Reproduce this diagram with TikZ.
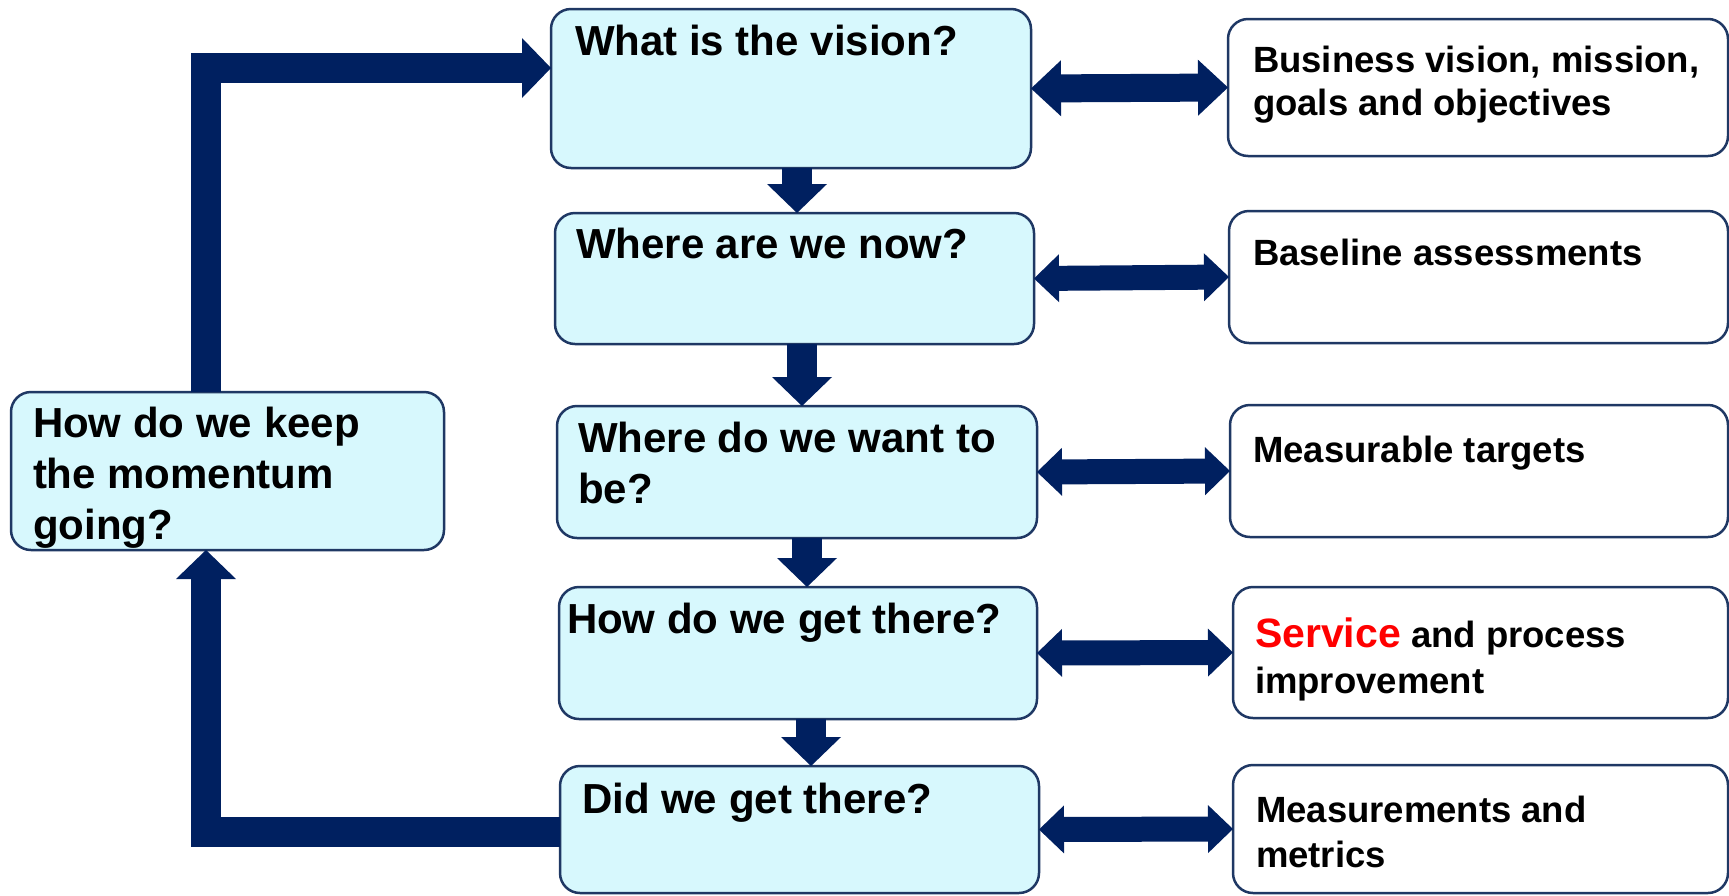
\documentclass[tikz,border=0pt]{standalone}
\usepackage{fontspec}
\setmainfont{Liberation Sans}
\usetikzlibrary{arrows.meta}
\definecolor{navy}{RGB}{0,32,96}
\definecolor{boxline}{RGB}{31,56,100}
\definecolor{cyanfill}{RGB}{215,248,253}
\definecolor{srvred}{RGB}{255,0,0}
\begin{document}
\begin{tikzpicture}[x=0.5pt,y=-0.5pt,
  qbox/.style={draw=boxline,line width=1.25pt,rounded corners=10pt,fill=cyanfill,inner sep=0pt,outer sep=0pt},
  abox/.style={qbox,fill=white},
  qtxt/.style={anchor=base west,inner sep=0pt,outer sep=0pt,font=\bfseries\fontsize{21}{25}\selectfont},
  atxt/.style={anchor=base west,inner sep=0pt,outer sep=0pt,font=\bfseries\fontsize{18.25}{22}\selectfont},
  flow/.style={draw=navy,line width=15pt,-{Triangle[width=30pt,length=14.5pt,line width=0pt]}},
  link/.style={draw=navy,line width=12.5pt,{Triangle[width=24pt,length=12.5pt,line width=0pt]}-{Triangle[width=24pt,length=12.5pt,line width=0pt]}},
  biglink/.style={draw=navy,line width=14pt,{Triangle[width=28pt,length=15pt,line width=0pt]}-{Triangle[width=28pt,length=15pt,line width=0pt]}}
]
\fill[white] (0,0) rectangle (1729,895);
\useasboundingbox (0,0) rectangle (1729,895);

% question boxes
\node[qbox,minimum width=240pt,minimum height=79.5pt] (vision) at (791,88.5) {};
\node[qbox,minimum width=239.5pt,minimum height=65.5pt] (now) at (794.5,278.5) {};
\node[qbox,minimum width=240pt,minimum height=66pt] (want) at (797,472) {};
\node[qbox,minimum width=239pt,minimum height=66pt] (get) at (798,653) {};
\node[qbox,minimum width=239.5pt,minimum height=63.5pt] (did) at (799.5,829.5) {};
\node[qbox,minimum width=216.5pt,minimum height=79pt] (keep) at (227.5,471) {};

% answer boxes
\node[abox,minimum width=250pt,minimum height=68.5pt] (business) at (1478,87.5) {};
\node[abox,minimum width=249.5pt,minimum height=66pt] (baseline) at (1478.5,277) {};
\node[abox,minimum width=249pt,minimum height=66pt] (measurable) at (1479,471) {};
\node[abox,minimum width=247.5pt,minimum height=65.5pt] (service) at (1480.5,652.5) {};
\node[abox,minimum width=247.5pt,minimum height=64pt] (measure) at (1480.5,829) {};

% texts
\node[qtxt] (tvision) at (575,55) {What is the vision?};
\node[qtxt] (tnow) at (576,258) {Where are we now?};
\node[qtxt] (twant1) at (578,452) {Where do we want to};
\node[qtxt] (twant2) at (578,503) {be?};
\node[qtxt] (tget) at (567,633) {How do we get there?};
\node[qtxt] (tdid) at (582,813) {Did we get there?};
\node[qtxt] (tkeep1) at (33,437) {How do we keep};
\node[qtxt] (tkeep2) at (33,488) {the momentum};
\node[qtxt] (tkeep3) at (33,539) {going?};

\node[atxt] (tbus1) at (1253,72) {Business vision, mission,};
\node[atxt] (tbus2) at (1253,115) {goals and objectives};
\node[atxt] (tbase) at (1253,265) {Baseline assessments};
\node[atxt] (tmeas) at (1253,462) {Measurable targets};
\node[atxt] (tserv1) at (1255,647) {{\color{srvred}\fontsize{20.5}{22}\selectfont Service} and process};
\node[atxt] (tserv2) at (1255,693) {improvement};
\node[atxt] (tmm1) at (1256,822) {Measurements and};
\node[atxt] (tmm2) at (1256,867) {metrics};

% downward flow
\draw[flow] ([xshift=3pt]vision.south) -- ([xshift=3pt]vision.south |- now.north);
\draw[flow] ([xshift=3.75pt]now.south) -- ([xshift=3.75pt]now.south |- want.north);
\draw[flow] ([xshift=5pt]want.south) -- ([xshift=5pt]want.south |- get.north);
\draw[flow] ([xshift=6.5pt]get.south) -- ([xshift=6.5pt]get.south |- did.north);

% feedback loop
\coordinate (c1) at (205.5,68);
\coordinate (c2) at (206,832);
\draw[flow] (keep.north -| c1) -- (c1) -- (c1 -| vision.west);
\draw[flow] (c2 -| did.west) -- (c2) -- (c2 |- keep.south);

% two-way links
\draw[biglink] (vision.east) -- (business.west);
\draw[link] (now.east) -- (baseline.west);
\draw[link] (want.east) -- (measurable.west);
\draw[link] (get.east) -- (service.west);
\draw[link] (did.east) -- (measure.west);
\end{tikzpicture}
\end{document}
